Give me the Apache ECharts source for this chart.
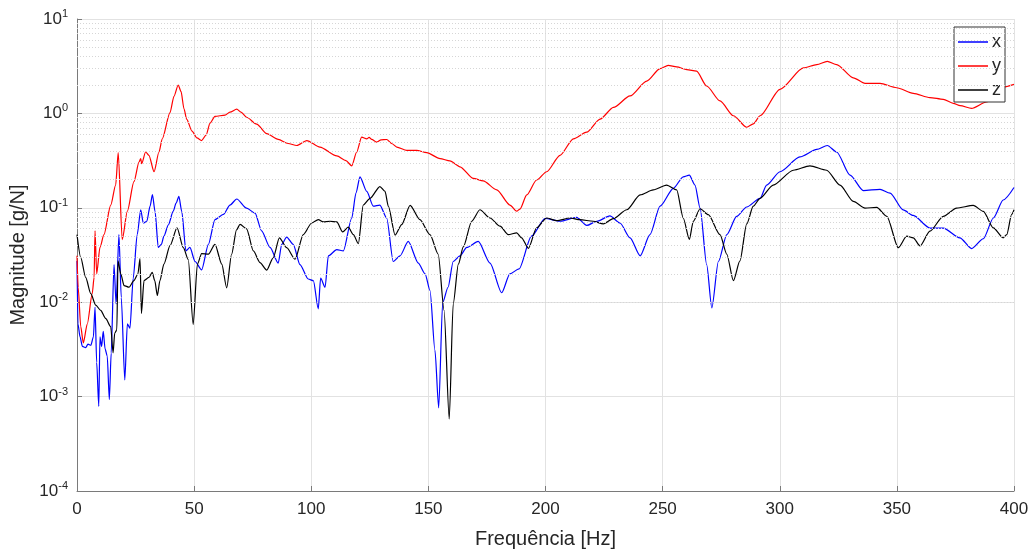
<!DOCTYPE html>
<html>
<head>
<meta charset="utf-8">
<script src="https://cdn.jsdelivr.net/npm/echarts@6/dist/echarts.min.js"></script>
<style>
html,body{margin:0;padding:0;background:#fff;}
#chart{width:1032px;height:554px;}
</style>
</head>
<body>
<div id="chart"></div>
<script>
// ---- data (frequency in Hz, magnitude in g/N) ----
const seriesNames = ['x', 'y', 'z'];
const xTicks = [0, 50, 100, 150, 200, 250, 300, 350, 400];

const freqX = [0,0.4,1.3,2.3,3.7,4.7,5.9,7.0,7.7,8.4,9.3,9.8,10.5,11.2,12.0,12.9,13.8,14.6,15.8,16.7,17.9,18.9,20.4,21.5,22.6,24.0,25.7,27.2,28.3,29.8,31.2,32.2,33.3,34.7,36.0,37.1,39.0,41.1,42.3,43.5,44.7,46.5,48.2,50.4,53.2,56.1,58.9,62.5,65.3,68.2,72.4,76.0,78.8,82.4,85.9,87.4,89.5,92.3,95.2,98.7,100.9,103.0,104.0,105.9,107.3,110.9,113.7,117.3,119.1,120.8,123.7,126.5,129.3,132.2,135.0,137.9,141.4,145.7,148.6,150.7,152.8,154.4,156.1,158.4,160.6,163.5,166.4,171.3,176.3,181.3,184.8,188.7,194.0,199.8,206.2,213.3,217.6,221.9,227.5,231.8,236.1,240.4,244.6,248.9,254.6,258.8,261.4,263.8,266.0,268.8,271.0,273.8,277.4,281.6,285.9,291.6,294.4,300.1,308.6,315.8,320.3,324.3,330.0,335.7,342.8,347.1,352.7,357.0,364.1,369.8,376.9,381.9,386.9,391.2,395.4,400];
const magX = [0.0274,0.0059,0.0043,0.0034,0.0033,0.0036,0.0035,0.0043,0.0089,0.0023,0.00079,0.0043,0.0034,0.0049,0.0032,0.0027,0.00093,0.0029,0.025,0.0096,0.052,0.0112,0.0015,0.0059,0.0053,0.018,0.052,0.095,0.069,0.072,0.104,0.138,0.092,0.038,0.041,0.05,0.066,0.092,0.112,0.132,0.092,0.035,0.038,0.027,0.022,0.041,0.075,0.085,0.107,0.124,0.099,0.088,0.057,0.038,0.026,0.041,0.049,0.041,0.025,0.0176,0.0169,0.0085,0.018,0.0144,0.031,0.036,0.035,0.078,0.143,0.213,0.149,0.104,0.107,0.078,0.027,0.031,0.044,0.026,0.020,0.0133,0.0031,0.00076,0.0099,0.0144,0.027,0.031,0.038,0.044,0.026,0.0126,0.020,0.0225,0.05,0.077,0.072,0.079,0.065,0.072,0.082,0.069,0.048,0.031,0.052,0.104,0.161,0.213,0.222,0.174,0.099,0.025,0.0087,0.027,0.052,0.081,0.102,0.126,0.174,0.241,0.346,0.415,0.457,0.39,0.222,0.152,0.157,0.143,0.095,0.083,0.061,0.061,0.048,0.037,0.047,0.078,0.121,0.164];

const freqY = [0,0.5,1.6,2.7,4.4,6.5,7.3,7.7,8.4,9.8,11.5,14.4,16.5,17.6,19.3,21.5,24.3,26.5,27.2,27.6,29.3,30.7,32.9,35.0,36.4,39.7,41.4,43.2,44.4,45.7,46.8,49.1,51.2,53.2,55.1,56.8,58.9,63.2,65.3,68.2,70.0,72.4,76.7,81.0,85.9,90.1,93.8,98.1,103.7,110.9,114.8,117.3,119.4,121.5,123.7,124.7,125.8,127.9,129.8,132.2,134.5,136.5,140.8,145.0,149.3,155.0,159.2,163.5,169.2,173.4,179.2,184.8,187.7,189.1,192.0,196.2,200.5,206.2,211.9,217.6,223.3,229.0,236.1,243.2,248.9,252.4,256.0,260.3,264.5,268.8,274.5,280.2,285.9,288.7,291.6,300.1,310.1,315.8,320.3,324.3,331.4,336.4,342.8,349.9,357.0,364.1,369.8,374.1,377.0,381.9,388.3,394.0,400];
const magY = [0.031,0.0144,0.0055,0.0037,0.0059,0.0123,0.0183,0.057,0.020,0.038,0.052,0.107,0.174,0.384,0.046,0.092,0.189,0.306,0.332,0.294,0.39,0.36,0.241,0.39,0.538,1.02,1.52,2.0,1.71,1.11,0.87,0.65,0.55,0.516,0.59,0.79,0.93,0.96,1.03,1.11,1.03,0.91,0.77,0.61,0.53,0.48,0.457,0.516,0.44,0.354,0.316,0.278,0.39,0.56,0.538,0.557,0.53,0.497,0.525,0.529,0.477,0.44,0.406,0.406,0.384,0.332,0.314,0.272,0.205,0.193,0.155,0.107,0.092,0.097,0.137,0.197,0.241,0.36,0.538,0.632,0.871,1.156,1.53,2.2,2.98,3.23,3.11,2.91,2.8,1.95,1.355,0.944,0.713,0.773,0.944,1.8,3.03,3.29,3.56,3.29,2.38,2.08,2.08,1.87,1.63,1.47,1.41,1.28,1.21,1.13,1.32,1.87,2.03];

const freqZ = [0,1.6,3.7,5.9,8.0,10.1,12.3,14.4,15.4,16.1,17.0,17.5,18.7,20.1,22.2,24.3,26.0,26.9,27.5,28.6,30.7,32.1,33.2,34.3,35.4,37.1,39.7,42.7,45.4,47.5,49.6,51.4,53.2,56.1,58.9,61.8,63.9,66.0,68.1,69.6,72.4,75.3,78.1,81.0,83.8,86.4,89.5,93.1,96.6,100.2,103.0,105.1,108.0,110.9,113.4,115.8,118.0,120.1,122.2,125.1,129.3,131.5,132.9,135.8,138.6,142.2,146.4,150.7,154.2,156.7,158.9,160.6,162.8,164.9,168.5,172.0,176.3,180.6,184.1,187.7,189.8,192.7,196.2,200.5,204.8,210.5,214.7,220.4,224.7,228.9,234.7,240.4,246.0,251.7,256.0,258.8,261.4,263.1,266.0,269.5,274.5,277.4,280.2,283.0,285.9,288.7,291.6,297.2,305.8,312.9,320.0,325.7,331.4,336.4,341.4,345.7,350.6,354.2,357.0,359.9,364.1,369.8,375.5,382.6,386.9,391.2,395.4,396.9,399.0,400];
const magZ = [0.052,0.0297,0.0183,0.0123,0.0093,0.0082,0.0067,0.0055,0.0029,0.0047,0.0051,0.0274,0.0199,0.015,0.0144,0.0169,0.0199,0.029,0.0076,0.0169,0.0183,0.0207,0.0169,0.0118,0.0169,0.0253,0.0397,0.0612,0.0378,0.0283,0.0058,0.0253,0.0327,0.0323,0.041,0.0253,0.0142,0.0322,0.0584,0.0667,0.0598,0.0349,0.0263,0.0219,0.0297,0.048,0.0378,0.0285,0.052,0.069,0.0748,0.0708,0.072,0.0708,0.0556,0.0623,0.052,0.0417,0.107,0.126,0.168,0.149,0.104,0.0514,0.0664,0.106,0.0748,0.052,0.0322,0.0082,0.00058,0.0096,0.0253,0.0385,0.072,0.0953,0.078,0.0638,0.052,0.0543,0.0481,0.0372,0.0612,0.078,0.0731,0.078,0.0748,0.072,0.0675,0.0767,0.0953,0.137,0.1545,0.174,0.1545,0.078,0.0462,0.072,0.0977,0.0845,0.052,0.0322,0.0169,0.0274,0.0675,0.104,0.126,0.174,0.25,0.278,0.25,0.174,0.117,0.0993,0.101,0.0813,0.0378,0.05,0.048,0.0394,0.0566,0.0813,0.0993,0.106,0.0917,0.0612,0.0481,0.052,0.085,0.0953];

// ---- build ----
const zip = (f, m) => f.map((v, i) => [v, m[i]]);
const minorVals = [];
for (let e = -4; e <= 0; e++) for (let k = 2; k <= 9; k++) minorVals.push(k * Math.pow(10, e));

const FONT = 'Liberation Sans, Arial, sans-serif';
const TXT = '#262626';
const AXIS = '#7a7a7a';

const chart = echarts.init(document.getElementById('chart'), null, {renderer: 'canvas'});
const lineSeries = (name, f, m, color, z) => ({
  name, type: 'line', data: zip(f, m), showSymbol: false, symbol: 'none',
  smooth: 0.25, smoothMonotone: 'x',
  lineStyle: {color, width: 1.2}, itemStyle: {color}, z, animation: false
});
chart.setOption({
  animation: false,
  backgroundColor: '#ffffff',
  grid: {left: 77, right: 18, top: 19, bottom: 58, containLabel: false},
  legend: {
    data: seriesNames.map(n => ({name: n, icon: 'rect'})),
    orient: 'vertical', right: 27, top: 27,
    backgroundColor: '#ffffff', borderColor: '#333', borderWidth: 1, borderRadius: 0,
    padding: [6, 4, 3, 4], itemGap: 6, itemWidth: 30, itemHeight: 1.5,
    textStyle: {fontFamily: FONT, fontSize: 18, color: TXT, lineHeight: 18, padding: [0, 0, 0, -1]},
    selectedMode: false
  },
  xAxis: {
    type: 'value', min: 0, max: 400, interval: 50,
    name: 'Frequência [Hz]', nameLocation: 'middle', nameGap: 38,
    nameTextStyle: {fontFamily: FONT, fontSize: 20, color: TXT},
    axisLine: {show: true, lineStyle: {color: AXIS, width: 1}},
    axisTick: {show: true, inside: true, length: 5, lineStyle: {color: AXIS}},
    axisLabel: {fontFamily: FONT, fontSize: 17, color: TXT, margin: 10,
      formatter: v => xTicks.includes(v) ? String(v) : ''},
    splitLine: {show: true, lineStyle: {color: '#e2e2e2', width: 1}}
  },
  yAxis: {
    type: 'log', logBase: 10, min: 1e-4, max: 10,
    name: 'Magnitude [g/N]', nameLocation: 'middle', nameGap: 42, nameRotate: 90,
    nameTextStyle: {fontFamily: FONT, fontSize: 20, color: TXT},
    axisLine: {show: true, lineStyle: {color: AXIS, width: 1}},
    axisTick: {show: true, inside: true, length: 5, lineStyle: {color: AXIS}},
    axisLabel: {
      margin: 9, fontFamily: FONT,
      formatter: v => '{b|10}{s|' + Math.round(Math.log10(v)) + '}',
      rich: {
        b: {fontFamily: FONT, fontSize: 17, color: TXT},
        s: {fontFamily: FONT, fontSize: 11, color: TXT, padding: [0, 0, 10, 0]}
      }
    },
    splitLine: {show: true, lineStyle: {color: '#e2e2e2', width: 1}}
  },
  series: [
    {
      name: '_grid', type: 'line', data: [[0, 1]], symbol: 'none', showSymbol: false,
      lineStyle: {opacity: 0}, z: 1, silent: true, legendHoverLink: false,
      markLine: {
        silent: true, symbol: ['none', 'none'], label: {show: false}, animation: false,
        lineStyle: {color: '#d6d6d6', type: [1, 2], width: 1},
        data: minorVals.map(v => ({yAxis: v}))
      }
    },
    lineSeries('x', freqX, magX, '#0000ff', 3),
    lineSeries('y', freqY, magY, '#ff0000', 3),
    lineSeries('z', freqZ, magZ, '#000000', 3)
  ]
});
</script>
</body>
</html>
